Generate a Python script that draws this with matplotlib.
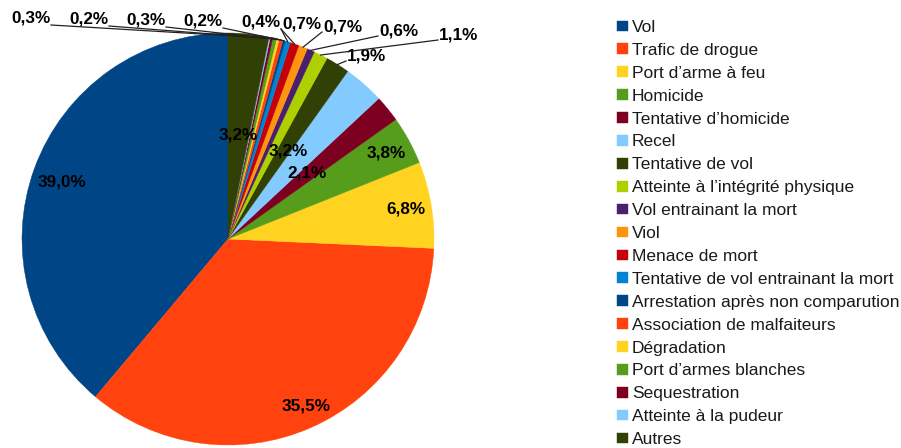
import numpy as np
import matplotlib
matplotlib.use("Agg")
import matplotlib.pyplot as plt

plt.rcParams['font.family'] = ['Liberation Sans', 'DejaVu Sans']

categories = ['Vol', 'Trafic de drogue', "Port d’arme à feu", 'Homicide',
              "Tentative d’homicide", 'Recel', 'Tentative de vol',
              "Atteinte à l’intégrité physique", 'Vol entrainant la mort', 'Viol',
              'Menace de mort', 'Tentative de vol entrainant la mort',
              'Arrestation après non comparution', 'Association de malfaiteurs',
              'Dégradation', "Port d’armes blanches", 'Sequestration',
              'Atteinte à la pudeur', 'Autres']
# percentages as printed on the chart (last two unlabeled slivers estimated)
values = [39.0, 35.5, 6.8, 3.8, 2.1, 3.2, 1.9, 1.1, 0.6, 0.7, 0.7, 0.4,
          0.2, 0.3, 0.2, 0.3, 0.2, 0.1, 3.2]
shown = [True] * 16 + [False, False, True]

palette = ['#004586', '#ff420e', '#ffd320', '#579d1c', '#7e0021', '#83caff',
           '#314004', '#aecf00', '#4b1f6f', '#ff950e', '#c5000b', '#0084d1']
colors = [palette[i % len(palette)] for i in range(len(values))]

# layout (pixels of the 901x448 image)
W, H = 901, 448
CX, CY, R = 228, 239, 206


def px(x, y):
    return (x - CX) / R, (CY - y) / R


# inside labels: radius factor and angle nudge (deg)
inside = {0: (0.85, 1.0), 1: (0.895, 1.5), 2: (0.875, 0), 3: (0.875, 0),
          4: (0.5, 0.5), 5: (0.515, 7.0), 18: (0.505, 0)}
# outside labels: text centre in pixels
outside = {6: (367, 56), 7: (459, 35), 8: (399, 31), 9: (343, 27),
           10: (302, 24), 11: (261, 22), 12: (203, 21), 13: (146, 20),
           14: (89, 19), 15: (31, 18)}

fig = plt.figure(figsize=(W / 100, H / 100), dpi=100)
ax = fig.add_axes([0, 0, 1, 1])

wedges, _ = ax.pie(values, colors=colors, startangle=90, counterclock=True,
                   radius=1, wedgeprops=dict(linewidth=0.3))
for w, c in zip(wedges, colors):
    w.set_edgecolor(c)
ax.set_xlim(-CX / R, (W - CX) / R)
ax.set_ylim(-(H - CY) / R, CY / R)
ax.axis('off')

lab_font = dict(fontsize=12.3, color='black', fontweight='bold')

for i, w in enumerate(wedges):
    if not shown[i]:
        continue
    txt = f"{values[i]:.1f}".replace('.', ',') + '%'
    mid = np.deg2rad((w.theta1 + w.theta2) / 2)
    if i in inside:
        rf, da = inside[i]
        a = mid + np.deg2rad(da)
        ax.text(rf * np.cos(a), rf * np.sin(a), txt, ha='center',
                va='center', **lab_font)
    else:
        cx, cy = outside[i]
        ex, ey = np.cos(mid), np.sin(mid)
        if px(cx, cy)[0] >= ex:
            lx, ly = px(cx - 21, cy + 5)
        else:
            lx, ly = px(cx + 20, cy + 7)
        ax.plot([ex, lx], [ey, ly], color='#222222', lw=0.9, zorder=3)
        tx, ty = px(cx, cy)
        ax.text(tx, ty, txt, ha='center', va='center', **lab_font)

leg = ax.legend(wedges, categories, loc='upper left', frameon=False,
                bbox_to_anchor=(617 / W, 1 - 20 / H),
                bbox_transform=fig.transFigure,
                fontsize=12.5, handlelength=0.63, handleheight=0.57,
                handletextpad=0.22, labelspacing=0.455, borderpad=0,
                borderaxespad=0)
for t in leg.get_texts():
    t.set_color('#1a1a1a')

fig.savefig('out.png', dpi=100)
